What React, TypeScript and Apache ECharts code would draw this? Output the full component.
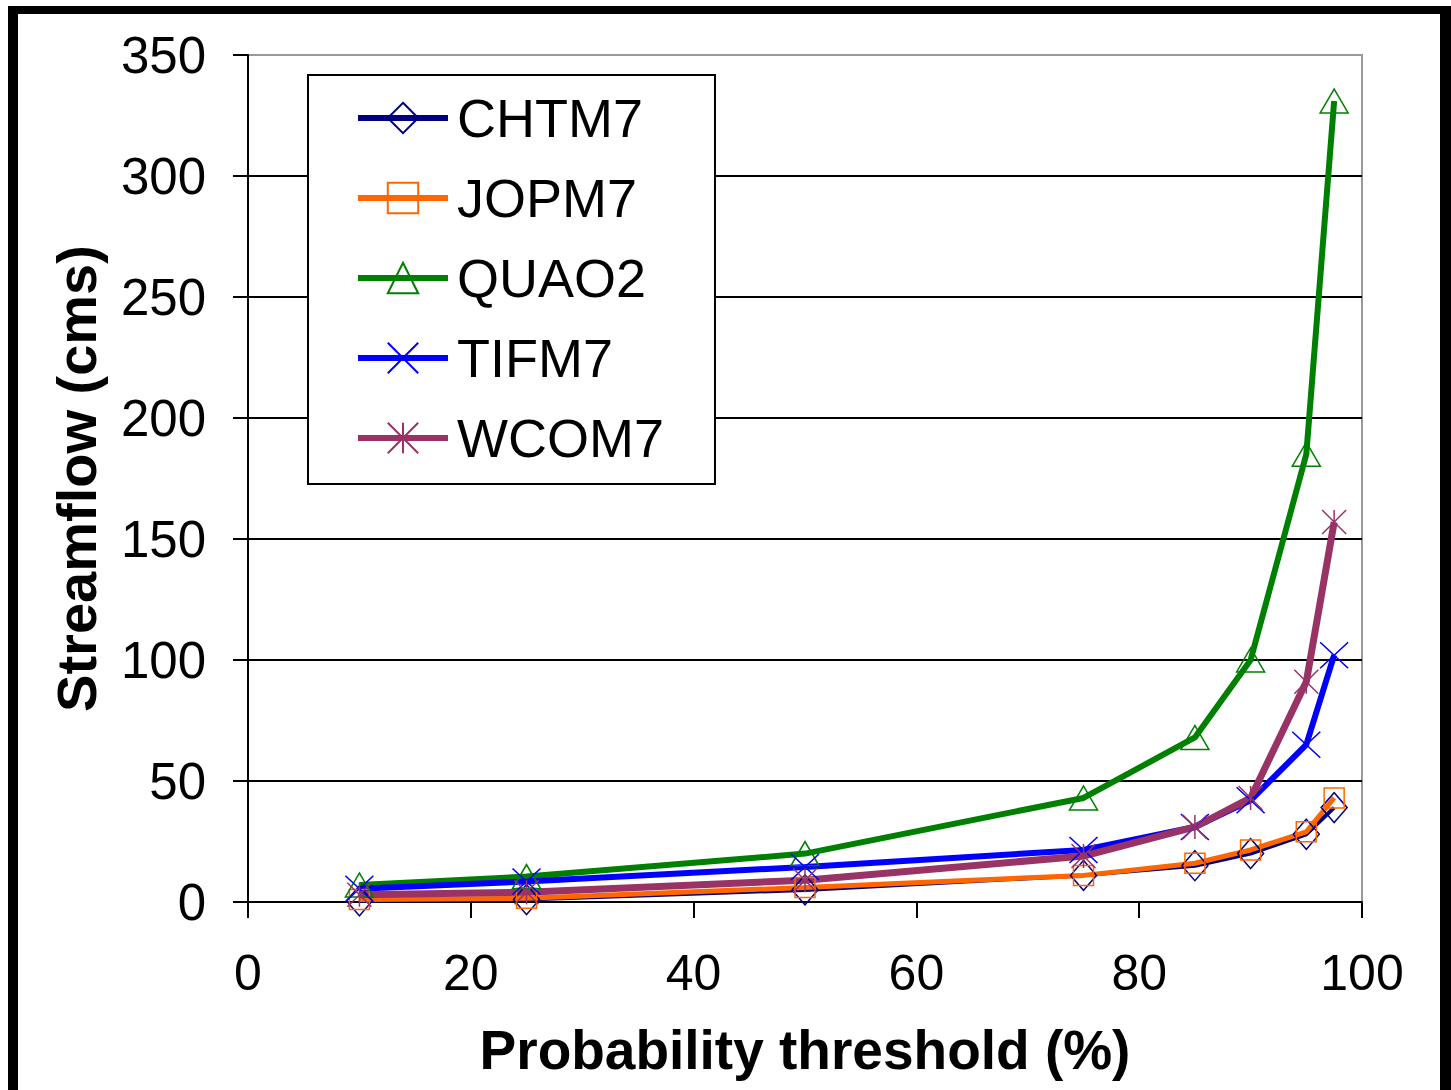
import React, { useEffect, useRef } from "react";
import * as echarts from "echarts";

const xValues = [10, 25, 50, 75, 85, 90, 95, 97.5];
const seriesNames = ["CHTM7", "JOPM7", "QUAO2", "TIFM7", "WCOM7"];
const chtm7 = [0.5, 1, 5, 11, 15, 20, 28, 39];
const jopm7 = [1, 1.5, 6, 11, 16, 21.5, 29, 43];
const quao2 = [7, 10.5, 20, 43, 68, 100, 185, 331];
const tifm7 = [5.5, 8.5, 14.5, 21.5, 31, 42, 65, 102];
const wcom7 = [3, 4, 9, 19, 31, 43, 91, 157];
const xTitle = "Probability threshold (%)";
const yTitle = "Streamflow (cms)";

const FONT = "'Liberation Sans', Arial, sans-serif";

export default function App() {
  const ref = useRef<HTMLDivElement>(null);
  useEffect(() => {
    document.body.style.margin = "0";
    const chart = echarts.init(ref.current!, null, { renderer: "svg" });
    const pairs = (ys: number[]) => xValues.map((x, i) => [x, ys[i]]);
    const mk = (
      name: string,
      data: number[],
      color: string,
      symbol: string,
      symbolSize: any,
      width: number
    ) => ({
      name,
      type: "line",
      data: pairs(data),
      color,
      symbol,
      symbolSize,
      showSymbol: true,
      lineStyle: { color, width },
      itemStyle: { color: "rgba(0,0,0,0)", borderColor: color, borderWidth: 1.5 },
      emphasis: { disabled: true },
    });
    const xPath = "path://M0 0L10 10M10 0L0 10";
    const starPath = "path://M0 0L10 10M10 0L0 10M5 0L5 10";
    chart.setOption({
      animation: false,
      backgroundColor: "#fff",
      textStyle: { fontFamily: FONT },
      grid: {
        left: 248,
        right: 89,
        top: 55,
        bottom: 188,
        show: true,
        borderColor: "#999",
        borderWidth: 2,
        backgroundColor: "#fff",
      },
      legend: {
        orient: "vertical",
        left: 308,
        top: 75,
        padding: [16, 51, 19, 47],
        itemWidth: 90,
        itemHeight: 38,
        itemGap: 26,
        borderColor: "#000",
        borderWidth: 2,
        backgroundColor: "#fff",
        lineStyle: { width: 6 },
        textStyle: { fontSize: 54, fontFamily: FONT, color: "#000", padding: [0, 0, 0, 4] },
        data: seriesNames,
      },
      xAxis: {
        type: "value",
        min: 0,
        max: 100,
        interval: 20,
        name: xTitle,
        nameLocation: "middle",
        nameGap: 120,
        nameTextStyle: { fontSize: 55, fontWeight: "bold", color: "#000", fontFamily: FONT },
        axisLine: { lineStyle: { color: "#000", width: 2 } },
        axisTick: { show: true, length: 16, lineStyle: { color: "#000", width: 2 } },
        axisLabel: { fontSize: 50, color: "#000", margin: 46, fontFamily: FONT },
        splitLine: { show: false },
      },
      yAxis: {
        type: "value",
        min: 0,
        max: 350,
        interval: 50,
        name: yTitle,
        nameLocation: "middle",
        nameGap: 144,
        nameTextStyle: { fontSize: 56, fontWeight: "bold", color: "#000", fontFamily: FONT },
        axisLine: { show: true, lineStyle: { color: "#000", width: 2 } },
        axisTick: { show: true, length: 15, lineStyle: { color: "#000", width: 2 } },
        axisLabel: { fontSize: 51, color: "#000", margin: 42, fontFamily: FONT },
        splitLine: {
          show: true,
          lineStyle: {
            color: ["#000", "#000", "#000", "#000", "#000", "#000", "#000", "#999"],
            width: 2,
          },
        },
      },
      series: [
        mk("CHTM7", chtm7, "#000080", "diamond", [26, 30], 4),
        mk("JOPM7", jopm7, "#FF6600", "rect", [20, 20], 5),
        mk("QUAO2", quao2, "#008000", "triangle", [28, 24], 6),
        mk("TIFM7", tifm7, "#0000FF", xPath, [28, 26], 6),
        mk("WCOM7", wcom7, "#993366", starPath, [24, 24], 7),
      ],
      graphic: [
        { type: "rect", left: 8, top: 6, shape: { width: 1443, height: 8 }, style: { fill: "#000" }, z: 100 },
        { type: "rect", left: 8, top: 6, shape: { width: 10, height: 1084 }, style: { fill: "#000" }, z: 100 },
        { type: "rect", left: 1440, top: 6, shape: { width: 11, height: 1084 }, style: { fill: "#000" }, z: 100 },
      ],
    });
    return () => chart.dispose();
  }, []);
  return <div ref={ref} style={{ width: 1451, height: 1090 }} />;
}
